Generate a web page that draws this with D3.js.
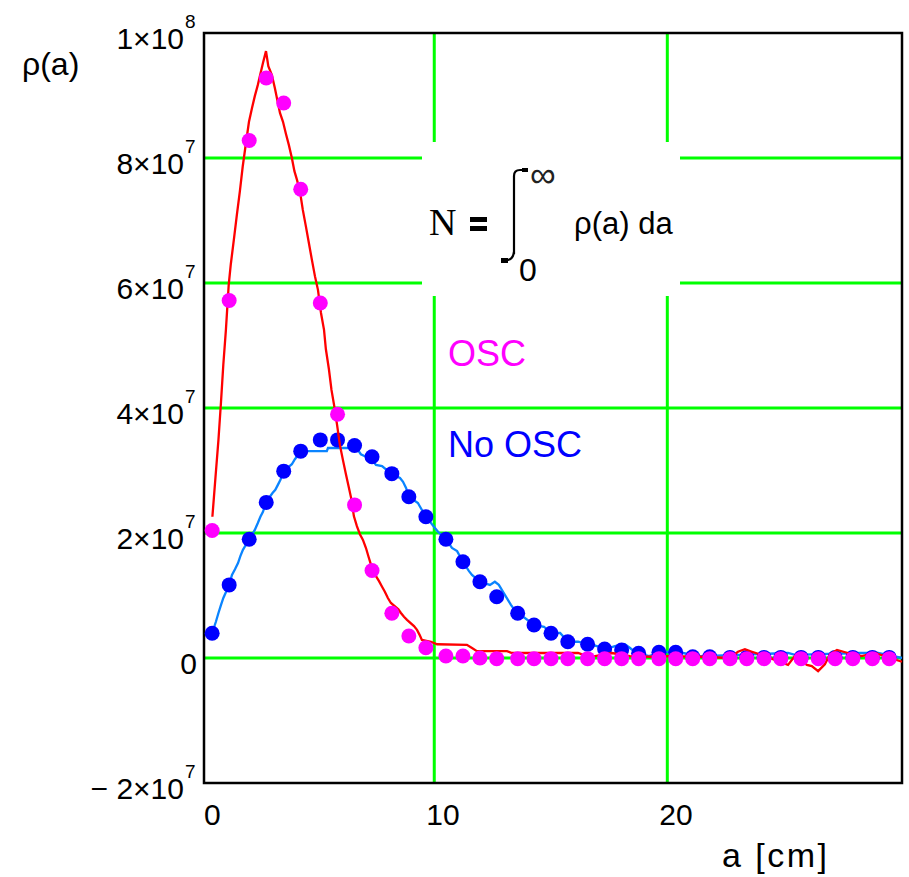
<!DOCTYPE html>
<html>
<head>
<meta charset="utf-8">
<script src="https://cdn.jsdelivr.net/npm/d3@7"></script>
<style>
  body { margin: 0; background: #fff; }
  svg { display: block; font-family: "Liberation Sans", Arial, sans-serif; }
</style>
</head>
<body>
<svg id="chart" width="909" height="877"></svg>
<script>
// ---- data (a in cm, rho(a) in 1/cm) ----
var dotA = [0.47,1.20,2.06,2.79,3.54,4.27,5.11,5.85,6.58,7.33,8.18,8.91,9.64,10.50,11.23,11.96,
            12.68,13.58,14.28,15.01,15.73,16.58,17.31,18.04,18.77,19.64,20.36,21.09,21.82,22.69,
            23.41,24.15,24.87,25.74,26.48,27.20,27.96,28.80,29.52];
var oscDots = [2.04e7,5.72e7,8.28e7,9.28e7,8.88e7,7.50e7,5.68e7,3.90e7,2.45e7,1.40e7,7.15e6,3.52e6,
               1.65e6,3.2e5,3.2e5,0,-1e5,-1e5,-1e5,-1e5,-1e5,-1e5,-1e5,-1e5,-1e5,-1e5,-1e5,-1e5,
               -1e5,-1e5,-1e5,-1e5,-1e5,-1e5,-1e5,-1e5,-1e5,-1e5,-1e5];
var noOscDots = [3.95e6,1.17e7,1.90e7,2.49e7,2.99e7,3.31e7,3.49e7,3.49e7,3.40e7,3.22e7,2.95e7,2.58e7,
                 2.26e7,1.90e7,1.54e7,1.22e7,9.8e6,7.15e6,5.28e6,3.95e6,2.61e6,2.19e6,1.44e6,1.28e6,
                 7.5e5,9.1e5,9.1e5,2e5,2e5,1e5,1e5,1e5,1e5,1e5,1e5,1e5,1e5,1e5,1e5];

var oscLineA = [0.48,0.61,0.74,0.85,0.95,1.06,1.18,1.27,1.40,1.53,1.66,1.78,1.92,2.05,2.18,2.30,2.43,
                2.65,2.78,2.88,3.03,3.16,3.38,3.51,3.64,3.76,3.89,4.00,4.11,4.24,4.36,4.49,4.62,4.75,
                4.88,5.01,5.14,5.27,5.35,5.48,5.59,5.70,5.83,5.95,6.08,6.21,6.34,6.45,6.55,6.68,6.81,
                6.94,7.07,7.18,7.28,7.50,7.63,7.76,7.88,8.01,8.14,8.46,8.57,8.70,8.83,9.13,9.26,9.37,
                9.47,9.86,10.12,11.40,11.62,11.83,12.26,13.12,13.33,13.89,16.17,16.55,16.90,17.62,
                18.40,19.26,20.03,21.40,22.69,23.03,23.33,23.63,24.19,25.18,25.47,25.99,26.20,26.47,
                26.76,26.98,27.28,27.75,28.35,28.91,29.56,30.07];
var oscLineP = [2.26e7,2.88e7,3.49e7,4.10e7,4.70e7,5.25e7,5.97e7,6.30e7,6.69e7,7.09e7,7.47e7,7.86e7,
                8.24e7,8.58e7,8.80e7,8.99e7,9.17e7,9.52e7,9.71e7,9.47e7,9.33e7,9.12e7,8.72e7,8.58e7,
                8.38e7,8.21e7,8.00e7,7.79e7,7.65e7,7.46e7,7.17e7,6.91e7,6.64e7,6.37e7,6.11e7,5.89e7,
                5.52e7,5.25e7,4.94e7,4.62e7,4.29e7,4.05e7,3.73e7,3.41e7,3.17e7,2.94e7,2.72e7,2.53e7,
                2.27e7,2.11e7,1.98e7,1.89e7,1.76e7,1.62e7,1.50e7,1.31e7,1.23e7,1.14e7,1.06e7,9.6e6,
                8.8e6,7.8e6,7.2e6,6.6e6,6.1e6,5.1e6,4.5e6,3.7e6,2.9e6,2.6e6,2.2e6,2.1e6,1.6e6,1.1e6,
                1.1e6,1.1e6,8e5,8e5,8e5,3e5,3e5,8e5,3e5,2e5,3e5,2e5,0,1e6,1.4e6,1e6,3e5,-1.1e6,3e5,
                -1.1e6,-1.3e6,-2.1e6,-1e6,6e5,1.3e6,8e5,3e5,8e5,0,-6e5];

var noOscLineA = [0.47,0.63,0.74,0.85,0.95,1.20,1.32,1.45,1.58,1.68,1.79,2.06,2.30,2.43,2.54,2.65,2.79,
                  3.06,3.18,3.29,3.40,3.54,3.89,4.02,4.28,4.58,5.39,5.44,6.30,6.58,6.85,7.07,7.33,7.50,
                  7.76,8.18,8.53,8.66,8.79,8.91,9.30,9.39,9.64,9.86,10.03,10.16,10.50,10.76,10.98,11.23,
                  11.49,11.62,11.96,12.39,12.60,12.77,12.90,13.03,13.16,13.29,13.54,13.89,14.28,14.71,
                  15.01,15.40,15.74,16.17,16.60,16.98,17.33,17.75,18.18,18.40,18.57,18.78,19.21,19.64,
                  20.03,20.67,21.40,23.12,25.18,25.48,28.27,29.04,30.07];
var noOscLineP = [4.0e6,5.8e6,7.2e6,8.5e6,9.6e6,1.17e7,1.33e7,1.42e7,1.52e7,1.63e7,1.73e7,1.90e7,2.05e7,
                  2.16e7,2.26e7,2.34e7,2.50e7,2.64e7,2.69e7,2.77e7,2.85e7,2.99e7,3.10e7,3.18e7,3.31e7,
                  3.31e7,3.31e7,3.36e7,3.36e7,3.41e7,3.26e7,3.22e7,3.17e7,3.09e7,3.07e7,2.94e7,2.88e7,
                  2.82e7,2.72e7,2.58e7,2.48e7,2.42e7,2.26e7,2.16e7,2.08e7,2.02e7,1.90e7,1.76e7,1.71e7,
                  1.54e7,1.39e7,1.33e7,1.22e7,1.17e7,1.22e7,1.17e7,1.09e7,1.01e7,9.3e6,8.5e6,7.2e6,6.4e6,
                  5.3e6,5.0e6,4.0e6,4.0e6,2.6e6,2.6e6,2.2e6,1.9e6,1.4e6,1.9e6,2.2e6,1.6e6,1.1e6,8e5,3e5,
                  8e5,1e6,8e5,3e5,5e5,8e5,5e5,8e5,8e5,0];

var yTicks = [1e8, 8e7, 6e7, 4e7, 2e7, 0, -2e7];
var yTickText = ["1\u00d710", "8\u00d710", "6\u00d710", "4\u00d710", "2\u00d710", "0", "\u2212 2\u00d710"];
var yTickExp = ["8", "7", "7", "7", "7", "", "7"];
var yGrid = [8e7, 6e7, 4e7, 2e7, 0];
var xTicks = [0, 10, 20];
var xGrid = [10, 20];

// ---- scales ----
var L = 204, R = 902, T = 33, B = 783;
var x = d3.scaleLinear().domain([0.12, 30.07]).range([L, R]);
var y = d3.scaleLinear().domain([-2e7, 1e8]).range([B, T]);

var svg = d3.select("#chart");
svg.append("rect").attr("width", 909).attr("height", 877).attr("fill", "#fff");

// grid
var grid = svg.append("g").attr("stroke", "#00ff00").attr("stroke-width", 3);
grid.selectAll("line.h").data(yGrid).enter().append("line")
    .attr("x1", L).attr("x2", R)
    .attr("y1", function(d) { return y(d); }).attr("y2", function(d) { return y(d); });
grid.selectAll("line.v").data(xGrid).enter().append("line")
    .attr("y1", T).attr("y2", B)
    .attr("x1", function(d) { return x(d); }).attr("x2", function(d) { return x(d); });

// blank area behind the formula
svg.append("rect").attr("x", 422).attr("y", 142).attr("width", 258).attr("height", 154).attr("fill", "#fff");

// frame
svg.append("rect").attr("x", L).attr("y", T).attr("width", R - L).attr("height", B - T)
    .attr("fill", "none").attr("stroke", "#000").attr("stroke-width", 2.5);

// y tick labels
var yl = svg.append("g").attr("fill", "#000");
yTicks.forEach(function(v, i) {
    var gy = y(v);
    if (yTickExp[i] === "") {
        yl.append("text").attr("x", 197).attr("y", gy + 16).attr("text-anchor", "end")
          .attr("font-size", 30).text(yTickText[i]);
        return;
    }
    yl.append("text").attr("x", 184).attr("y", gy + 16).attr("text-anchor", "end")
      .attr("font-size", 30).text(yTickText[i]);
    yl.append("text").attr("x", 185).attr("y", gy - 5).attr("font-size", 19).text(yTickExp[i]);
});

// x tick labels
svg.append("g").selectAll("text").data(xTicks).enter().append("text")
    .attr("x", function(d) { return Math.max(x(d) - 8, L); })
    .attr("y", 825).attr("font-size", 30).text(function(d) { return d; });

// axis titles
svg.append("text").attr("x", 22).attr("y", 75).attr("font-size", 32).text("\u03c1(a)");
svg.append("text").attr("x", 722).attr("y", 867).attr("font-size", 34)
    .attr("letter-spacing", 2.5).text("a [cm]");

// series
var line = d3.line().x(function(d) { return x(d[0]); }).y(function(d) { return y(d[1]); });

svg.append("path").datum(d3.zip(noOscLineA, noOscLineP))
    .attr("fill", "none").attr("stroke", "#0a84ff").attr("stroke-width", 2.3).attr("d", line);
svg.append("g").selectAll("circle").data(d3.zip(dotA, noOscDots)).enter().append("circle")
    .attr("cx", function(d) { return x(d[0]); }).attr("cy", function(d) { return y(d[1]); })
    .attr("r", 7.5).attr("fill", "#0000ff");
svg.append("path").datum(d3.zip(oscLineA, oscLineP))
    .attr("fill", "none").attr("stroke", "#ff0000").attr("stroke-width", 2.3).attr("d", line);
svg.append("g").selectAll("circle").data(d3.zip(dotA, oscDots)).enter().append("circle")
    .attr("cx", function(d) { return x(d[0]); }).attr("cy", function(d) { return y(d[1]); })
    .attr("r", 7.5).attr("fill", "#ff00ff");

// curve labels
svg.append("text").attr("x", 448).attr("y", 366).attr("font-size", 36).attr("fill", "#ff00ff").text("OSC");
svg.append("text").attr("x", 448).attr("y", 457).attr("font-size", 36).attr("fill", "#0000ff").text("No OSC");

// formula N = int_0^inf rho(a) da
var f = svg.append("g");
f.append("text").attr("x", 429).attr("y", 235).attr("font-family", "Liberation Serif, Times New Roman, serif")
    .attr("font-size", 38).text("N");
f.append("rect").attr("x", 470).attr("y", 217).attr("width", 17).attr("height", 5);
f.append("rect").attr("x", 470).attr("y", 226).attr("width", 17).attr("height", 5);
f.append("path").attr("d", "M514,254 L514,176 Q514,170 520,170 L527,170")
    .attr("fill", "none").attr("stroke", "#000").attr("stroke-width", 2.2);
f.append("path").attr("d", "M514,252 Q513,259 508,260 L502,261")
    .attr("fill", "none").attr("stroke", "#000").attr("stroke-width", 2.2);
f.append("rect").attr("x", 522).attr("y", 168).attr("width", 6).attr("height", 4);
f.append("rect").attr("x", 501).attr("y", 258).attr("width", 7).attr("height", 5);
f.append("text").attr("x", 530).attr("y", 187).attr("font-size", 36).attr("fill", "#222").text("\u221e");
f.append("text").attr("x", 519).attr("y", 281).attr("font-size", 32).text("0");
f.append("text").attr("x", 574).attr("y", 234).attr("font-size", 31).text("\u03c1(a) da");
</script>
</body>
</html>
